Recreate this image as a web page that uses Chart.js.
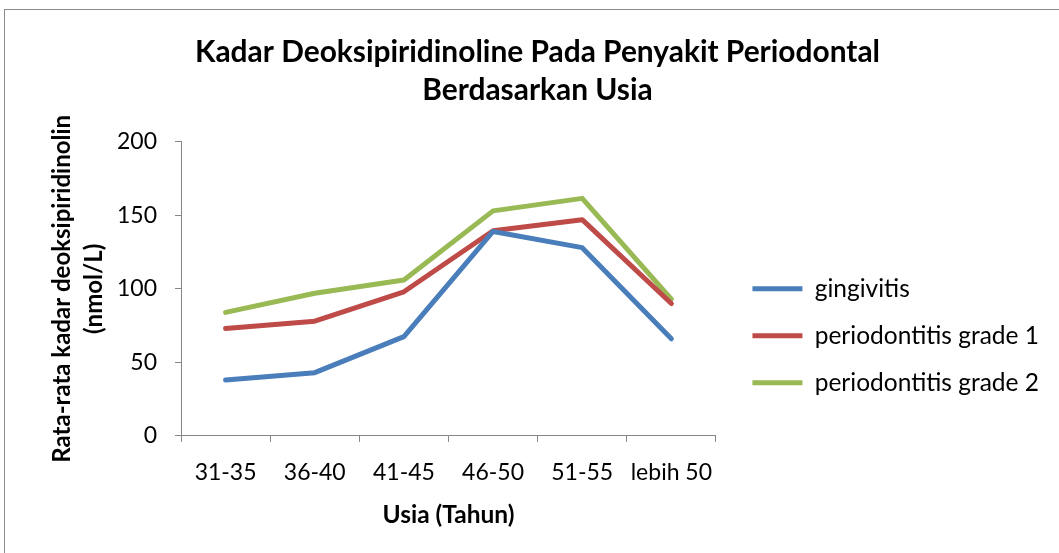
<!DOCTYPE html>
<html>
<head>
<meta charset="utf-8">
<script src="https://cdn.jsdelivr.net/npm/chart.js@4/dist/chart.umd.min.js"></script>
<style>
  html, body { margin: 0; padding: 0; background: #fff; }
  #frame { position: absolute; left: 4px; top: 9px; width: 1060px; height: 550px; border: 1px solid #8c8c8c; box-sizing: border-box; }
  #wrap { position: absolute; left: 5px; top: 10px; width: 1054px; height: 543px; }
</style>
</head>
<body>
<div id="frame"></div>
<div id="wrap"><canvas id="chart"></canvas></div>
<script>
// ====== data ======
const categories = ["31-35", "36-40", "41-45", "46-50", "51-55", "lebih 50"];
const gingivitis = [38, 43, 67.5, 139, 128, 66];
const perioGrade1 = [73, 78, 98, 139.5, 147, 90];
const perioGrade2 = [84, 97, 106, 153, 161.5, 93];
const yTicks = [0, 50, 100, 150, 200];

const FONT = "Lato, Carlito, Calibri, 'Liberation Sans', sans-serif";
const axisGrey = "#868686";

function lineSet(label, data, color) {
  return {
    label: label, data: data,
    borderColor: color, backgroundColor: color,
    borderWidth: 5, tension: 0,
    pointRadius: 0, pointHoverRadius: 0,
    borderCapStyle: "round", borderJoinStyle: "round",
    pointStyle: "line",
    yAxisID: "y",
  };
}

new Chart(document.getElementById("chart"), {
  type: "line",
  data: {
    labels: categories,
    datasets: [
      lineSet("gingivitis", gingivitis, "#4a7ebb"),
      lineSet("periodontitis grade 1", perioGrade1, "#be4b48"),
      lineSet("periodontitis grade 2", perioGrade2, "#98b954"),
    ],
  },
  options: {
    responsive: true, maintainAspectRatio: false, animation: false,
    layout: { padding: { left: 21, right: 10, top: 0, bottom: 26 } },
    plugins: {
      tooltip: { enabled: false },
      title: {
        display: true,
        text: ["Kadar Deoksipiridinoline Pada Penyakit Periodontal", "Berdasarkan Usia"],
        color: "#000",
        font: { family: FONT, size: 29.9, weight: "bold", lineHeight: 1.3 },
        padding: { top: 22.5, bottom: 31.5 },
      },
      legend: {
        position: "right",
        align: "start",
        maxWidth: 420,
        // blank legend title only pushes the entries down
        title: { display: true, text: " ", font: { size: 10, lineHeight: 1 }, padding: { top: 0, bottom: 234 } },
        labels: {
          usePointStyle: true,
          pointStyleWidth: 50,
          color: "#000",
          font: { family: FONT, size: 24.5 },
          padding: 22.5,
        },
      },
    },
    scales: {
      x: {
        offset: true,
        grid: { offset: true, drawOnChartArea: false, drawTicks: true, tickLength: 6, color: axisGrey },
        border: { display: true, color: axisGrey, width: 1 },
        ticks: { color: "#000", font: { family: FONT, size: 23 }, padding: 17, maxRotation: 0 },
        title: {
          display: true, text: "Usia (Tahun)", color: "#000",
          font: { family: FONT, size: 24.5, weight: "bold", lineHeight: 1 },
          padding: { top: -1, bottom: 0 },
        },
      },
      y: {
        min: 0, max: 200,
        afterBuildTicks: (axis) => { axis.ticks = yTicks.map(v => ({ value: v })); },
        grid: { drawOnChartArea: false, drawTicks: true, tickLength: 6, color: axisGrey },
        border: { display: true, color: axisGrey, width: 1 },
        ticks: { color: "#000", font: { family: FONT, size: 23 }, padding: 18 },
        title: {
          display: true, text: ["Rata-rata kadar deoksipiridinolin", "(nmol/L)"], color: "#000",
          font: { family: FONT, size: 24, weight: "bold", lineHeight: "32px" },
          padding: { top: 20, bottom: -11 },
        },
      },
      // empty axis: only keeps a gap between plot and legend
      gap: {
        type: "linear", position: "right", display: true,
        grid: { display: false, drawTicks: false },
        border: { display: false },
        ticks: { display: false },
        title: { display: true, text: " ", font: { size: 14, lineHeight: 1 }, padding: 0 },
      },
    },
  },
});
</script>
</body>
</html>
